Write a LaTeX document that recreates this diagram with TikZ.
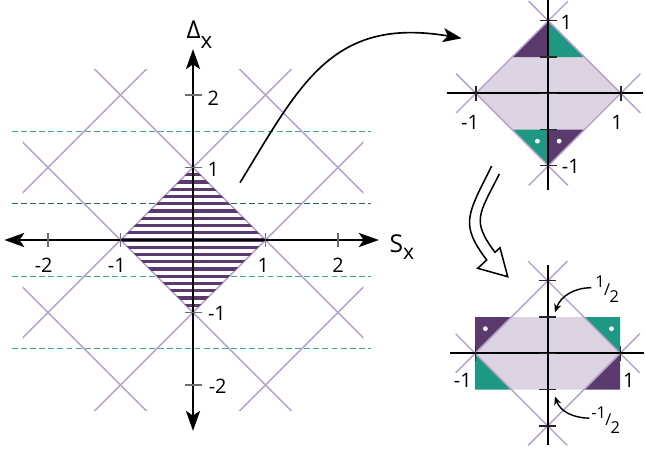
\documentclass[tikz,border=0pt]{standalone}
\usepackage{fontspec}
\setmainfont{Open Sans}
\usepackage{xcolor}
\usetikzlibrary{arrows.meta, positioning}

\definecolor{latticepurple}{HTML}{B8A5C9}
\definecolor{darkpurple}{HTML}{5B3A6E}
\definecolor{fillpurple}{HTML}{DDD4E3}
\definecolor{tealfill}{HTML}{1E9783}
\definecolor{lightteal}{HTML}{3FA899}
\definecolor{darkteal}{HTML}{236C66}
\definecolor{tickgray}{HTML}{6E6E6E}

\newcommand{\halfsign}[1]{\fontsize{14}{16}\selectfont\raisebox{0.45em}{#1}\kern-0.04em/\kern-0.04em\raisebox{-0.45em}{2}}

\begin{document}
\begin{tikzpicture}[
        x=0.03cm, y=0.03cm, % one unit = one pixel of the sketch
        every node/.style={font=\fontsize{17}{20}\selectfont, inner sep=0pt},
        lattice/.style={latticepurple, line width=1.3pt},
        guide/.style={lightteal, dash pattern=on 5pt off 2.8pt, line width=1.1pt},
        stripe/.style={darkpurple, line width=2.6pt},
        mainaxis/.style={line width=2pt, {Stealth[length=17pt, width=12pt, inset=4pt]}-{Stealth[length=17pt, width=12pt, inset=4pt]}},
        minoraxis/.style={line width=1.5pt},
        tickmark/.style={tickgray, line width=1.2pt},
        minortick/.style={black!85, line width=1.2pt},
        swoop/.style={-{Stealth[length=16pt, width=12pt, inset=4pt]}, line width=1.4pt},
        pointer/.style={-{Stealth[length=7pt, width=6pt, inset=2pt]}, line width=1.2pt},
        hollow/.style={line width=1.3pt, line join=miter},
        whitedot/.style={white}
    ]
    \useasboundingbox (0,0) rectangle (645,453);

    % ---------- Left: full lattice ----------
    \begin{scope}[shift={(193,213)}, scale=72.5]
        % Define coordinates
        \coordinate (sx_left) at (-2.62,0); \coordinate (sx_right) at (2.58,0);
        \coordinate (dx_bottom) at (0,-2.65); \coordinate (dx_top) at (0,2.65);

        % Dashed guides
        \draw[guide] (-2.5,1.5) -- (2.45,1.5);
        \draw[guide, darkteal] (-2.5,0.5) -- (2.45,0.5);
        \draw[guide] (-2.5,-0.5) -- (2.45,-0.5);
        \draw[guide] (-2.5,-1.5) -- (2.45,-1.5);

        % Lattice lines
        \begin{scope}
            \clip (-2.35,-2.35) rectangle (2.35,2.35);
            \foreach \c in {-3,-1,1,3} {
                \draw[lattice] (-3,-3+\c) -- (3,3+\c);
                \draw[lattice] (-3,3+\c) -- (3,-3+\c);
            }
        \end{scope}

        % Hatched diamond
        \begin{scope}
            \clip (1,0) -- (0,1) -- (-1,0) -- (0,-1) -- cycle;
            \foreach \k in {-9,...,9}
                \draw[stripe] (-1,\k/10) -- (1,\k/10);
        \end{scope}

        % Axes and ticks
        \draw[mainaxis] (sx_left) -- (sx_right);
        \draw[mainaxis] (dx_bottom) -- (dx_top);
        \foreach \t in {-2,-1,1,2} {
            \draw[tickmark] (\t,-0.1) -- (\t,0.1);
            \draw[tickmark] (-0.11,\t) -- (0.13,\t);
        }

        % Labels
        \node (sx_m2) at (-2.06,-0.345) {-2};
        \node (sx_m1) at (-1.05,-0.345) {-1};
        \node (sx_p1) at (0.97,-0.345) {1};
        \node (sx_p2) at (2.0,-0.345) {2};
        \node (dx_p2) at (0.28,1.96) {2};
        \node (dx_p1) at (0.28,0.97) {1};
        \node (dx_m1) at (0.33,-1.01) {-1};
        \node (dx_m2) at (0.34,-2.02) {-2};
        \node (dx_name) at (0.09,2.83) {\fontsize{21}{24}\selectfont Δ\raisebox{-0.4em}{\fontsize{19}{22}\selectfont x}};
        \node (sx_name) at (2.88,-0.10) {\fontsize{21}{24}\selectfont S\raisebox{-0.27em}{\fontsize{18}{20}\selectfont x}};
    \end{scope}

    % ---------- Top right: split diamond ----------
    \begin{scope}[shift={(548.3,359.7)}, scale=72.5]
        \fill[fillpurple] (1,0) -- (0,1) -- (-1,0) -- (0,-1) -- cycle;
        \fill[darkpurple] (0,1) -- (-0.5,0.5) -- (0,0.5) -- cycle;
        \fill[tealfill] (0,1) -- (0.5,0.5) -- (0,0.5) -- cycle;
        \fill[tealfill] (0,-1) -- (-0.5,-0.5) -- (0,-0.5) -- cycle;
        \fill[darkpurple] (0,-1) -- (0.5,-0.5) -- (0,-0.5) -- cycle;
        \fill[whitedot] (-0.15,-0.66) circle[radius=0.033];
        \fill[whitedot] (0.15,-0.66) circle[radius=0.033];

        \foreach \a in {0,90,180,270}
            \draw[lattice, rotate=\a] (-1.27,-0.27) -- (0.27,1.27);

        \draw[minoraxis] (-1.4,0) -- (1.31,0);
        \draw[minoraxis] (0,-1.34) -- (0,1.29);
        \foreach \t in {-1,-0.5,0,0.5,1}
            \draw[minortick] (-0.12,\t) -- (0.12,\t);
        \foreach \t in {-1,1}
            \draw[minortick] (\t,-0.1) -- (\t,0.1);

        \node (tr_top) at (0.25,0.98) {1};
        \node (tr_left) at (-1.08,-0.40) {-1};
        \node (tr_right) at (0.95,-0.40) {1};
        \node (tr_bottom) at (0.31,-1.01) {-1};
    \end{scope}

    % ---------- Bottom right: rectangle cell ----------
    \begin{scope}[shift={(547.7,99.7)}, scale=72.5]
        \fill[darkpurple] (-1,0) -- (-1,0.5) -- (-0.5,0.5) -- cycle;
        \fill[tealfill] (1,0) -- (1,0.5) -- (0.5,0.5) -- cycle;
        \fill[tealfill] (-1,0) -- (-1,-0.5) -- (-0.5,-0.5) -- cycle;
        \fill[darkpurple] (1,0) -- (1,-0.5) -- (0.5,-0.5) -- cycle;
        \fill[fillpurple] (-1,0) -- (-0.5,0.5) -- (0.5,0.5) -- (1,0) -- (0.5,-0.5) -- (-0.5,-0.5) -- cycle;
        \fill[whitedot] (-0.86,0.34) circle[radius=0.033];
        \fill[whitedot] (0.88,0.34) circle[radius=0.033];

        \foreach \a in {0,90,180,270}
            \draw[lattice, rotate=\a] (-1.27,-0.27) -- (0.27,1.27);

        \draw[minoraxis] (-1.35,0) -- (1.33,0);
        \draw[minoraxis] (0,-1.26) -- (0,1.22);
        \foreach \t in {-1,-0.5,0,0.5,1}
            \draw[minortick] (-0.12,\t) -- (0.12,\t);
        \foreach \t in {-1,1}
            \draw[minortick] (\t,-0.1) -- (\t,0.1);

        \node (br_left) at (-1.17,-0.37) {-1};
        \node (br_right) at (1.12,-0.37) {1};
        \node (br_half) at (0.82,0.88) {\halfsign{1}};
        \node (br_mhalf) at (0.80,-0.92) {\halfsign{-1}};

        % Pointers to the half ticks
        \coordinate (half_tip) at (0.1,0.57);
        \coordinate (mhalf_tip) at (0.1,-0.60);
        \draw[pointer] (br_half.west) ++(-0.05,0.03) to[out=180, in=70] (half_tip);
        \draw[pointer] (br_mhalf.west) ++(-0.02,0.02) to[out=180, in=-70] (mhalf_tip);
    \end{scope}

    % ---------- Arrows between panels ----------
    \coordinate (swoop_start) at (240,270.3);
    \coordinate (swoop_end) at (461.7,414.7);
    \draw[swoop] (swoop_start) .. controls (299.8,368) and (331.7,436.8) .. (swoop_end);

    \draw[hollow] (491.7,287) .. controls (466.95,237.5) and (459.7,229) .. (486.7,193)
        -- (477.7,184.7) -- (507.7,176.3) -- (500,205.3) -- (495,200.7)
        .. controls (471,232.7) and (479.05,238.5) .. (499.3,279);

\end{tikzpicture}
\end{document}
